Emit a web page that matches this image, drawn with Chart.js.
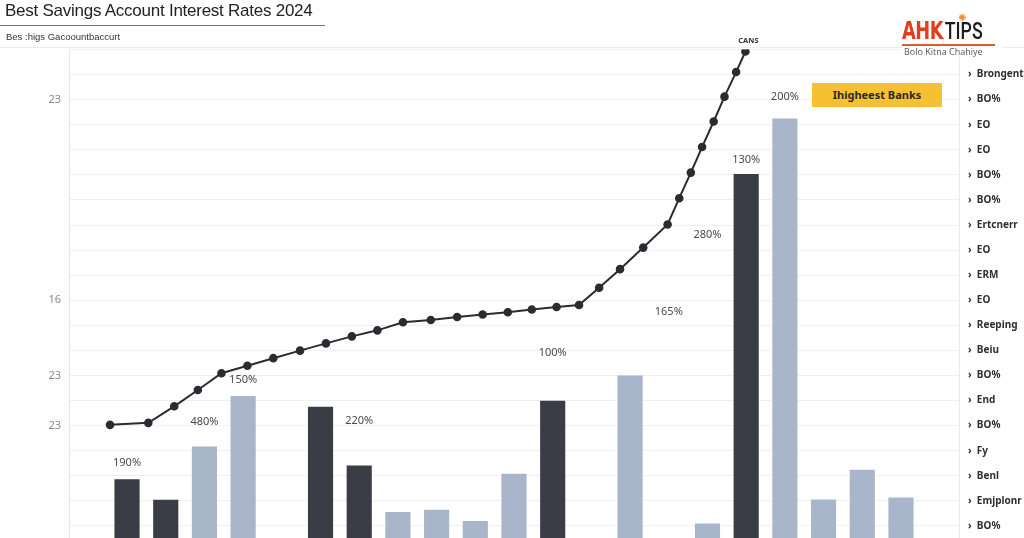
<!DOCTYPE html>
<html>
<head>
<meta charset="utf-8">
<script src="https://cdn.jsdelivr.net/npm/chart.js@4.4.0/dist/chart.umd.min.js"></script>
<style>
  html, body { margin: 0; padding: 0; background: #fff; overflow: hidden; width: 1024px; height: 538px; }
  #wrap { position: relative; width: 1024px; height: 566px; }
  canvas { position: absolute; left: 0; top: 0; }
  .title { position: absolute; left: 5px; top: 1px; font: 17px "Liberation Sans", Arial, sans-serif; color: #222; letter-spacing: -0.25px; }
  .rule { position: absolute; left: 0; top: 25px; width: 325px; height: 1px; background: #777; }
  .sub { position: absolute; left: 6px; top: 31px; font: 9.5px "Liberation Sans", Arial, sans-serif; color: #333; }
  .sep { position: absolute; left: 0; top: 47px; width: 1024px; height: 1px; background: #ececec; }
  .logo { position: absolute; left: 902px; top: 19px; width: 100px; background: #fff; }
  .logo .mark { font: bold 24px "DejaVu Sans", sans-serif; line-height: 24px; white-space: nowrap; transform: scaleX(0.74); transform-origin: left top; width: 140px; }
  .logo .mark .r { color: #e63b1d; letter-spacing: -0.5px; }
  .logo .mark .k { color: #1d1d1d; font-weight: 500; font-family: Roboto, sans-serif; letter-spacing: 0px; margin-left: 2px; }
  .logo .sun { position: absolute; left: 56px; top: -7px; color: #f08a2a; font: 10px "DejaVu Sans", sans-serif; }
  .logo .line { height: 1.5px; width: 93px; background: #e85a2a; margin-top: 1px; }
  .logo .tag { font: 9px "Open Sans", sans-serif; color: #555; margin-left: 2px; line-height: 11px; }
  .badge { position: absolute; left: 812px; top: 83px; width: 130px; height: 24px; background: #f5c133; font: bold 11px "Noto Sans", sans-serif; color: #2a2a2a; text-align: center; line-height: 24px; }
</style>
</head>
<body>
<div id="wrap">
  <canvas id="chart" width="1024" height="566"></canvas>
  <div class="sep"></div>
  <div class="title">Best Savings Account Interest Rates 2024</div>
  <div class="rule"></div>
  <div class="sub">Bes :higs Gacoountbaccurt</div>
  <div class="logo">
    <div class="sun">✺</div>
    <div class="mark"><span class="r">AHK</span><span class="k">TIPS</span></div>
    <div class="line"></div>
    <div class="tag">Bolo Kitna Chahiye</div>
  </div>
  <div class="badge">Ihigheest Banks</div>
</div>
<script>
const banks = ['B01', 'B02', 'B03', 'B04', 'B05', 'B06', 'B07', 'B08', 'B09', 'B10', 'B11', 'B12',
  'B13', 'B14', 'B15', 'B16', 'B17', 'B18', 'B19', 'B20', 'B21', 'B22', 'B23'];

const topRates = [null, 2.86, 2.04, null, null, null, 5.75, 3.41, null, null, null, null,
  5.99, null, null, null, null, 15.03, null, null, null, null, null];
const otherRates = [null, null, null, 4.17, 6.18, null, null, null, 1.56, 1.65, 1.20, 3.08,
  null, null, 7.00, null, 1.10, null, 17.25, 2.05, 3.24, 2.13, null];

// trend line, x in bank-index units
const trendX = [0.56, 1.55, 2.22, 2.83, 3.44, 4.11, 4.78, 5.47, 6.14, 6.81, 7.47, 8.13, 8.85, 9.53,
  10.19, 10.84, 11.46, 12.10, 12.68, 13.20, 13.74, 14.34, 14.97, 15.27, 15.57, 15.86, 16.16, 16.44, 16.74, 16.98];
const trendY = [5.03, 5.11, 5.77, 6.42, 7.09, 7.39, 7.69, 7.99, 8.28, 8.56, 8.80, 9.12, 9.21, 9.33,
  9.43, 9.52, 9.63, 9.73, 9.81, 10.50, 11.24, 12.10, 13.02, 14.07, 15.09, 16.11, 17.13, 18.12, 19.10, 19.92];

const noteIdx = [1, 3, 4, 7, 12, 15, 16, 17, 18];
const noteVal = [3.53, 5.16, 6.83, 5.20, 7.90, 9.52, 12.62, 15.60, 18.13];
const noteText = ['190%', '480%', '150%', '220%', '100%', '165%', '280%', '130%', '200%'];
const peakText = 'CANS';

const leftTickVals = [18, 10, 7, 5];
const leftTickText = ['23', '16', '23', '23'];
const rightTickText = ['Brongent', 'BO%', 'EO', 'EO', 'BO%', 'BO%', 'Ertcnerr', 'EO', 'ERM', 'EO',
  'Reeping', 'Beiu', 'BO%', 'End', 'BO%', 'Fy', 'Benl', 'Emjplonr', 'BO%'];

const notesPlugin = {
  id: 'notes',
  afterDraw(chart) {
    const { ctx, scales: { x, y } } = chart;
    ctx.save();
    ctx.fillStyle = '#4a4a4a';
    ctx.textAlign = 'center';
    ctx.textBaseline = 'middle';
    ctx.font = '11px "Noto Sans"';
    noteText.forEach((t, i) => {
      ctx.fillText(t, x.getPixelForValue(noteIdx[i]), y.getPixelForValue(noteVal[i]));
    });
    const last = trendX.length - 1;
    ctx.font = 'bold 7.5px "Noto Sans"';
    ctx.fillStyle = '#333';
    ctx.fillText(peakText, chart.scales.xl.getPixelForValue(trendX[last]) + 3, y.getPixelForValue(trendY[last]) - 11);
    ctx.restore();
  }
};

new Chart(document.getElementById('chart'), {
  data: {
    labels: banks,
    datasets: [
      {
        type: 'line',
        label: 'Trend',
        data: trendX.map((x, i) => ({ x: x, y: trendY[i] })),
        xAxisID: 'xl',
        borderColor: '#2a2c31',
        backgroundColor: '#2a2c31',
        borderWidth: 2,
        pointRadius: 3.3,
        tension: 0,
        order: 0
      },
      {
        type: 'bar',
        label: 'Top banks',
        data: topRates,
        backgroundColor: '#3a3d45',
        grouped: false,
        categoryPercentage: 1,
        barPercentage: 0.65,
        order: 1
      },
      {
        type: 'bar',
        label: 'Other banks',
        data: otherRates,
        backgroundColor: '#a9b5ca',
        grouped: false,
        categoryPercentage: 1,
        barPercentage: 0.65,
        order: 1
      }
    ]
  },
  options: {
    responsive: false,
    animation: false,
    layout: { padding: { top: 49.5, bottom: 4, left: 0, right: 0 } },
    plugins: {
      legend: { display: false },
      tooltip: { enabled: false }
    },
    scales: {
      x: { display: false, offset: true },
      xl: { type: 'linear', display: false, min: -0.5, max: 22.5 },
      y: {
        position: 'left',
        min: 0,
        max: 20,
        z: 1,
        afterFit: (s) => { s.width = 69; },
        grid: { color: 'rgba(205,210,218,0.33)', drawTicks: false },
        border: { color: '#e6e6e6' },
        ticks: {
          stepSize: 1,
          autoSkip: false,
          padding: 8,
          color: '#8a8a8a',
          font: { family: 'Noto Sans', size: 11 },
          callback: (v) => {
            const k = leftTickVals.indexOf(v);
            return k < 0 ? '' : leftTickText[k];
          }
        }
      },
      y2: {
        position: 'right',
        min: 0,
        max: 20,
        afterFit: (s) => { s.width = 65; },
        grid: { display: false, drawTicks: false },
        border: { color: '#e8e8e8' },
        ticks: {
          stepSize: 1,
          autoSkip: false,
          padding: 9,
          color: '#2e2e2e',
          font: { family: 'Noto Sans', size: 10, weight: 'bold' },
          callback: (v) => (v >= 1 && v <= 19 ? '\u203A  ' + rightTickText[19 - v] : '')
        }
      }
    }
  },
  plugins: [notesPlugin]
});
</script>
</body>
</html>
